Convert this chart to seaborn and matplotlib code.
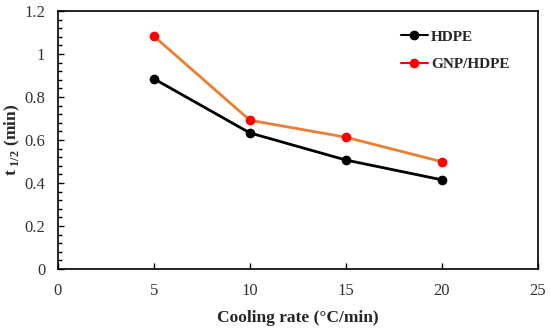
import matplotlib
matplotlib.use('Agg')
import matplotlib.pyplot as plt
from matplotlib.lines import Line2D
from matplotlib.ticker import MultipleLocator
import seaborn as sns
import pandas as pd

# Data
cooling_rate = [5, 10, 15, 20]
hdpe = [0.885, 0.633, 0.507, 0.415]
gnp_hdpe = [1.083, 0.692, 0.613, 0.499]

df = pd.DataFrame({
    'rate': cooling_rate * 2,
    't': hdpe + gnp_hdpe,
    'sample': ['HDPE'] * 4 + ['GNP/HDPE'] * 4,
})

sns.set_style('white')
plt.rcParams['font.family'] = ['Liberation Serif', 'DejaVu Serif']
plt.rcParams['mathtext.fontset'] = 'custom'
plt.rcParams['mathtext.rm'] = 'Liberation Serif'
plt.rcParams['mathtext.bf'] = 'Liberation Serif:bold'

fig = plt.figure(figsize=(5.5, 3.31), dpi=100)
ax = fig.add_axes([0.105, 0.187, 0.873, 0.78])

sns.lineplot(data=df[df['sample'] == 'HDPE'], x='rate', y='t', color='black',
             marker='o', markersize=7, markeredgewidth=0, linewidth=2, ax=ax)
sns.lineplot(data=df[df['sample'] == 'GNP/HDPE'], x='rate', y='t', color='#ED7D31',
             marker='o', markersize=7, markerfacecolor='red', markeredgewidth=0,
             linewidth=2, ax=ax)

ax.set_xlim(0, 25)
ax.set_ylim(0, 1.2)
ax.xaxis.set_major_locator(MultipleLocator(5))
ax.yaxis.set_minor_locator(MultipleLocator(0.04))
ax.set_yticks([0, 0.2, 0.4, 0.6, 0.8, 1.0, 1.2])
ax.set_yticklabels(['0', '0.2', '0.4', '0.6', '0.8', '1', '1.2'])
ax.tick_params(axis='both', which='major', direction='in', length=4, width=1,
               labelsize=12, color='black', labelcolor='#333333')
ax.tick_params(axis='x', which='major', pad=10, bottom=True)
ax.tick_params(axis='y', which='major', pad=9, left=True)
ax.tick_params(axis='y', which='minor', direction='in', length=3, width=1,
               left=True, color='black')
for s in ax.spines.values():
    s.set_color('black')
    s.set_linewidth(1.2)

ax.set_xlabel('Cooling rate (°C/min)', fontsize=12.5, fontweight='bold', labelpad=8)
ax.set_ylabel(r't$_{\mathbf{\ 1/2}}$ (min)', fontsize=12.5, fontweight='bold')
ax.yaxis.set_label_coords(-0.074, 0.5)

handles = [
    Line2D([], [], color='black', marker='o', markersize=7, markeredgewidth=0, linewidth=1.5),
    Line2D([], [], color='red', marker='o', markersize=7, markeredgewidth=0, linewidth=1.5),
]
ax.legend(handles, ['HDPE', 'GNP/HDPE'], loc='upper right', frameon=False,
          bbox_to_anchor=(0.97, 0.98), handlelength=1.8,
          handletextpad=0.2, labelspacing=0.9, prop={'weight': 'bold', 'size': 11})

fig.savefig('out.png', dpi=100)
